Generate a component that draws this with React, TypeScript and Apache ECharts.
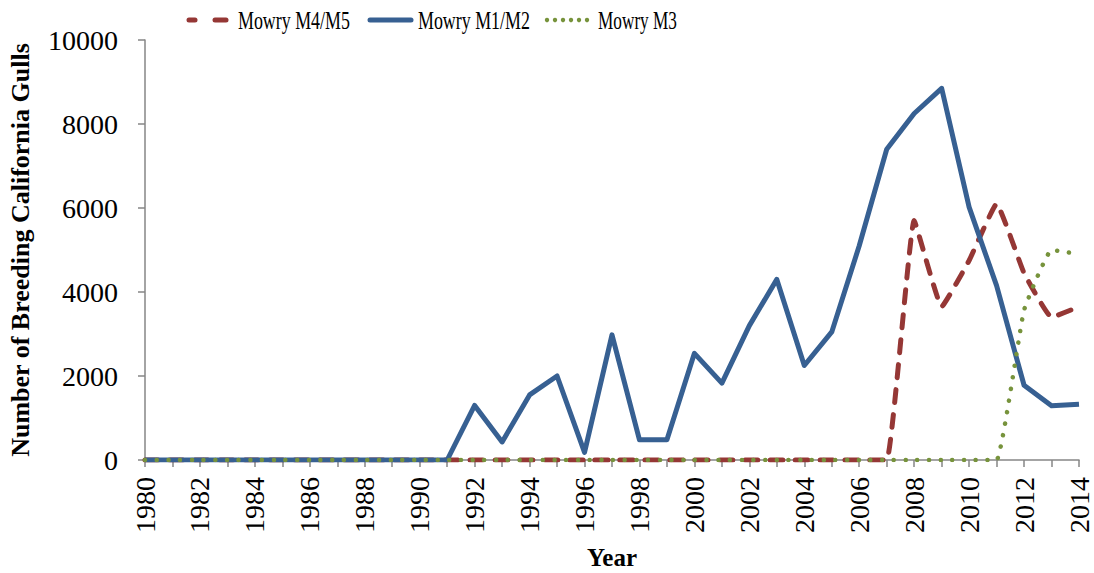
import React, { useEffect, useRef } from "react";
import * as echarts from "echarts";

const years: string[] = [];
for (let y = 1980; y <= 2014; y++) years.push(String(y));

// values for 1980..2014
const m1m2: number[] = [
  0, 0, 0, 0, 0, 0, 0, 0, 0, 0, 0, 0,
  1300, 430, 1550, 2000, 180, 2980, 480, 480, 2540, 1830, 3200, 4300,
  2250, 3050, 5100, 7400, 8250, 8850, 6020, 4150, 1780, 1290, 1330,
];
const m4m5: number[] = [
  0, 0, 0, 0, 0, 0, 0, 0, 0, 0, 0, 0,
  0, 0, 0, 0, 0, 0, 0, 0, 0, 0, 0, 0,
  0, 0, 0, 0, 5700, 3650, 4750, 6100, 4450, 3400, 3650,
];
const m3: number[] = [
  0, 0, 0, 0, 0, 0, 0, 0, 0, 0, 0, 0,
  0, 0, 0, 0, 0, 0, 0, 0, 0, 0, 0, 0,
  0, 0, 0, 0, 0, 0, 0, 0, 3570, 5000, 4900,
];
const seriesNames: string[] = ["Mowry M4/M5", "Mowry M1/M2", "Mowry M3"];

const RED = "#953735";
const BLUE = "#376092";
const GREEN = "#77933C";
const SERIF = "Liberation Serif";

function measure(text: string, size: number, family: string): number {
  const c = document.createElement("canvas").getContext("2d");
  if (!c) return text.length * size * 0.55;
  c.font = `${size}px "${family}"`;
  return c.measureText(text).width;
}

export default function App() {
  const ref = useRef<HTMLDivElement>(null);
  useEffect(() => {
    const chart = echarts.init(ref.current!, null, { renderer: "svg" });
    const legendSize = 26;
    const legendTargets = [
      { x: 238, w: 112 },
      { x: 418, w: 112 },
      { x: 598, w: 79 },
    ];
    const legendTexts = seriesNames.map((n, i) => {
      const w = measure(n, legendSize, SERIF);
      return {
        type: "text",
        x: legendTargets[i].x,
        y: 20,
        scaleX: legendTargets[i].w / w,
        style: {
          text: n,
          fontSize: legendSize,
          fontFamily: SERIF,
          fill: "#000",
          verticalAlign: "middle",
        },
      };
    });
    const greenDots = [0, 1, 2, 3, 4, 5].map((i) => ({
      type: "circle",
      shape: { cx: 547 + i * 8, cy: 20, r: 2.2 },
      style: { fill: GREEN },
    }));
    chart.setOption({
      animation: false,
      backgroundColor: "#ffffff",
      legend: { show: false, data: seriesNames },
      graphic: [
        { type: "line", shape: { x1: 189, y1: 20, x2: 195, y2: 20 }, style: { stroke: RED, lineWidth: 5, lineCap: "round" } },
        { type: "line", shape: { x1: 215, y1: 20, x2: 226, y2: 20 }, style: { stroke: RED, lineWidth: 5, lineCap: "round" } },
        { type: "line", shape: { x1: 370, y1: 20, x2: 411, y2: 20 }, style: { stroke: BLUE, lineWidth: 5, lineCap: "round" } },
        ...greenDots,
        ...legendTexts,
      ],
      grid: { left: 145, right: 15, top: 40, bottom: 113, containLabel: false, outerBoundsMode: "none" },
      xAxis: {
        type: "category",
        data: years,
        boundaryGap: false,
        name: "Year",
        nameLocation: "middle",
        nameGap: 85,
        nameTextStyle: { fontFamily: SERIF, fontSize: 25, fontWeight: "bold", color: "#000" },
        axisLine: { lineStyle: { color: "#868686", width: 1.5 } },
        axisTick: { interval: 0, length: 7, lineStyle: { color: "#868686", width: 1.5 } },
        axisLabel: {
          interval: 1,
          rotate: 90,
          fontFamily: SERIF,
          fontSize: 28,
          color: "#000",
          margin: 17,
        },
      },
      yAxis: {
        type: "value",
        min: 0,
        max: 10000,
        interval: 2000,
        name: "Number of Breeding California Gulls",
        nameLocation: "middle",
        nameGap: 112,
        nameTextStyle: { fontFamily: SERIF, fontSize: 26, fontWeight: "bold", color: "#000" },
        axisLine: { show: true, lineStyle: { color: "#868686", width: 1.5 } },
        axisTick: { show: true, length: 7, lineStyle: { color: "#868686", width: 1.5 } },
        splitLine: { show: false },
        axisLabel: { fontFamily: SERIF, fontSize: 28, color: "#000", margin: 27, formatter: (v: number) => String(v) },
      },
      series: [
        {
          name: seriesNames[0],
          type: "line",
          data: m4m5,
          symbol: "none",
          smooth: 0.1,
          color: RED,
          lineStyle: { color: RED, width: 5, type: [13, 12], cap: "round" },
          z: 2,
        },
        {
          name: seriesNames[1],
          type: "line",
          data: m1m2,
          symbol: "none",
          color: BLUE,
          lineStyle: { color: BLUE, width: 5, join: "round" },
          z: 3,
        },
        {
          name: seriesNames[2],
          type: "line",
          data: m3,
          symbol: "none",
          smooth: 0.1,
          color: GREEN,
          lineStyle: { color: GREEN, width: 4.5, type: [0.1, 11.6], cap: "round" },
          z: 4,
        },
      ],
    });
    return () => chart.dispose();
  }, []);
  return <div ref={ref} style={{ width: 1094, height: 573, position: "absolute", left: 0, top: 0 }} />;
}
